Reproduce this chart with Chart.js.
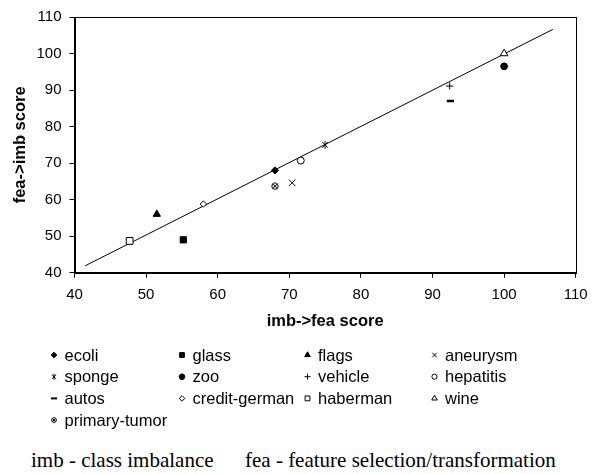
<!DOCTYPE html>
<html>
<head>
<meta charset="utf-8">
<script src="https://cdn.jsdelivr.net/npm/chart.js@4/dist/chart.umd.min.js"></script>
<style>
body { margin: 0; background: #fff; }
#wrap { position: relative; width: 597px; height: 474px; }
#note { position: absolute; left: 31px; top: 450px; font: 21px "Liberation Serif", "Times New Roman", serif; line-height: 21px; white-space: pre; color: #000; }
#note span + span { position: absolute; left: 214px; top: 0; }
</style>
</head>
<body>
<div id="wrap">
  <canvas id="c" width="597" height="440"></canvas>
  <div id="note"><span>imb - class imbalance</span><span>fea - feature selection/transformation</span></div>
</div>
<script>
const names = ['ecoli', 'glass', 'flags', 'aneurysm', 'sponge', 'zoo', 'vehicle', 'hepatitis', 'autos', 'credit-german', 'haberman', 'wine', 'primary-tumor'];
const imbFea = [68, 55.2, 51.5, 70.4, 75, 100, 92.4, 71.6, 92.5, 58, 47.7, 100, 68];
const feaImb = [68, 49, 56, 64.6, 75, 96.5, 91.1, 70.7, 87, 58.8, 48.7, 100, 63.7];
const trendX = [41.5, 106.8];
const trendY = [41.9, 106.6];

const SANS = '"Liberation Sans", Arial, sans-serif';

// circle with an x inside, for primary-tumor
function tumorMark(r) {
  const s = Math.ceil(r * 2 + 3);
  const cv = document.createElement('canvas');
  cv.width = s; cv.height = s;
  const g = cv.getContext('2d');
  const c = s / 2;
  g.strokeStyle = '#000';
  g.lineWidth = 1;
  g.fillStyle = '#fff';
  g.beginPath(); g.arc(c, c, r, 0, Math.PI * 2); g.fill(); g.stroke();
  const d = r * 0.6;
  g.beginPath();
  g.moveTo(c - d, c - d); g.lineTo(c + d, c + d);
  g.moveTo(c + d, c - d); g.lineTo(c - d, c + d);
  g.stroke();
  return cv;
}

// x with a vertical stroke, for sponge
function asterMark(r) {
  const s = Math.ceil(r * 2 + 2);
  const cv = document.createElement('canvas');
  cv.width = s; cv.height = s;
  const g = cv.getContext('2d');
  const c = s / 2;
  const d = r * 0.72;
  g.strokeStyle = '#000';
  g.lineWidth = 1;
  g.beginPath();
  g.moveTo(c - d, c - d); g.lineTo(c + d, c + d);
  g.moveTo(c + d, c - d); g.lineTo(c - d, c + d);
  g.moveTo(c, c - r); g.lineTo(c, c + r);
  g.stroke();
  return cv;
}

// marker look per dataset: [style, radius, filled, lineWidth, legendRadius, legendStyle]
const marks = [
  ['rectRot', 3.6, true, 1, 2.8],
  ['rect', 4.4, true, 1, 3.4],
  ['triangle', 4.2, true, 1, 3.2],
  ['crossRot', 4.6, false, 1, 3.2],
  [asterMark(4), 4, false, 1, 3, asterMark(3)],
  ['circle', 3.4, true, 1, 2.8],
  ['cross', 3.6, false, 1, 3],
  ['circle', 3.5, false, 1, 2.6],
  ['line', 3.6, false, 2.5, 3],
  ['rectRot', 3.2, false, 1, 2.8],
  ['rect', 4.8, false, 1, 3.4],
  ['triangle', 4.4, false, 1, 3.2],
  [tumorMark(3.2), 4, false, 1, 3, tumorMark(2.4)]
];

const datasets = names.map((n, i) => {
  const m = marks[i];
  return {
    label: n,
    data: [{ x: imbFea[i], y: feaImb[i] }],
    pointStyle: m[0],
    pointRadius: m[1],
    pointBackgroundColor: m[2] ? '#000' : '#fff',
    pointBorderColor: '#000',
    pointBorderWidth: m[3]
  };
});
datasets.push({
  label: 'trend',
  data: trendX.map((x, i) => ({ x: x, y: trendY[i] })),
  showLine: true,
  borderColor: '#000',
  borderWidth: 1,
  pointRadius: 0
});

const frame = {
  id: 'frame',
  afterDraw(chart) {
    const a = chart.chartArea, ctx = chart.ctx;
    ctx.save();
    ctx.strokeStyle = '#000';
    ctx.lineWidth = 1;
    ctx.strokeRect(Math.round(a.left) + 0.5, Math.round(a.top) + 0.5, Math.round(a.right - a.left), Math.round(a.bottom - a.top));
    ctx.restore();
  }
};

const gridLegend = {
  id: 'gridLegend',
  afterDraw(chart) {
    const ctx = chart.ctx;
    const colX = [54, 182, 307.5, 434.5];
    ctx.save();
    ctx.font = '16.5px ' + SANS;
    ctx.textBaseline = 'middle';
    names.forEach((n, i) => {
      const m = marks[i];
      const x = colX[i % 4];
      const y = 355 + Math.floor(i / 4) * 21.7;
      ctx.fillStyle = m[2] ? '#000' : '#fff';
      ctx.strokeStyle = '#000';
      ctx.lineWidth = m[3] > 1 ? 2 : 1;
      const style = m[5] || m[0];
      Chart.helpers.drawPoint(ctx, { pointStyle: style, radius: m[4], rotation: 0, borderWidth: ctx.lineWidth }, x, y);
      ctx.fillStyle = '#000';
      ctx.fillText(n, x + 10.5, y + 1);
    });
    ctx.restore();
  }
};

new Chart(document.getElementById('c'), {
  type: 'scatter',
  data: { datasets: datasets },
  options: {
    responsive: false,
    animation: false,
    layout: { padding: { left: 0, top: 12.3, right: 21.3, bottom: 107.3 } },
    plugins: { legend: { display: false }, tooltip: { enabled: false } },
    scales: {
      x: {
        type: 'linear', min: 40, max: 110,
        ticks: { stepSize: 10, color: '#000', font: { size: 15, family: SANS }, padding: 8 },
        grid: { drawOnChartArea: false, drawTicks: true, tickLength: 5, color: '#000' },
        border: { color: '#000' },
        title: { display: true, text: 'imb->fea score', color: '#000', font: { size: 16.5, weight: 'bold', family: SANS }, padding: { top: 0, bottom: 1 } },
        afterFit(s) { s.height = 60; }
      },
      y: {
        type: 'linear', min: 40, max: 110,
        ticks: { stepSize: 10, color: '#000', font: { size: 15, family: SANS }, padding: 8 },
        grid: { drawOnChartArea: false, drawTicks: true, tickLength: 5, color: '#000' },
        border: { color: '#000' },
        title: { display: true, text: 'fea->imb score', color: '#000', font: { size: 16.5, weight: 'bold', family: SANS }, padding: { top: 10.4, bottom: 4 } },
        afterFit(s) { s.width = 74.5; }
      }
    }
  },
  plugins: [frame, gridLegend]
});
</script>
</body>
</html>
